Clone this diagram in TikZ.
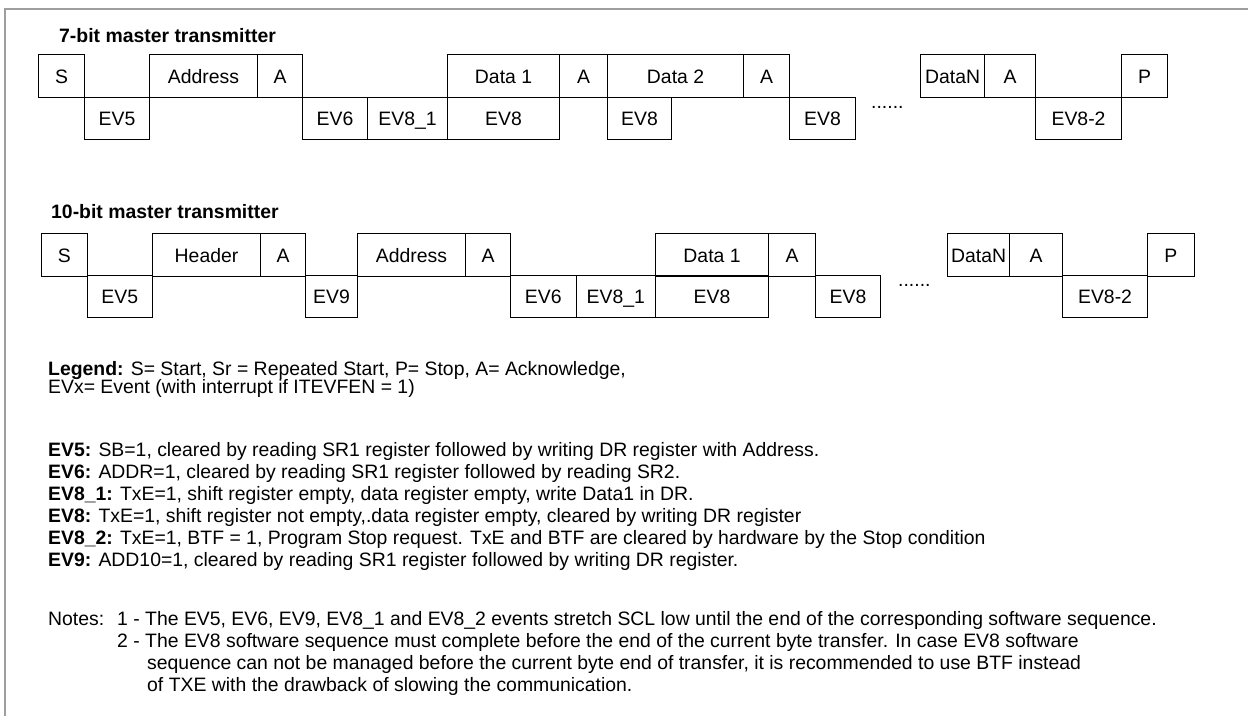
\documentclass[tikz,border=0pt]{standalone}
\usepackage{fontspec}
\setmainfont{Liberation Sans}
\begin{document}
\begin{tikzpicture}[x=1pt,y=-1pt,
  font=\fontsize{19.4}{23}\selectfont,
  frameline/.style={draw=black!38, line width=1.8pt},
  cell/.style={draw=black, line width=1.1pt, inner sep=0pt, anchor=north west,
               text height=13.9pt, text depth=0pt, align=center},
  topcell/.style={cell, minimum height=43pt},
  botcell/.style={cell, minimum height=42pt},
  txt/.style={anchor=base west, inner sep=0pt},
  ttl/.style={txt, font=\fontsize{19.4}{23}\selectfont\bfseries}]
\useasboundingbox (0,0) rectangle (1248,716);
\draw[frameline] (5,716) -- (5,9) -- (1248,9);

% ---------- 7-bit ----------
\node[ttl] (t1) at (59,42) {7-bit master transmitter};
\node[topcell, minimum width=46pt]  (a1)  at (38,54)   {S};
\node[topcell, minimum width=108pt] (a2)  at (149,54)  {Address};
\node[topcell, minimum width=45pt]  (a3)  at (257,54)  {A};
\node[topcell, minimum width=112pt] (a4)  at (447,54)  {Data 1};
\node[topcell, minimum width=48pt]  (a5)  at (559,54)  {A};
\node[topcell, minimum width=136pt] (a6)  at (607,54)  {Data 2};
\node[topcell, minimum width=46pt]  (a7)  at (743,54)  {A};
\node[topcell, minimum width=64pt]  (a8)  at (920,54)  {DataN};
\node[topcell, minimum width=51pt]  (a9)  at (984,54)  {A};
\node[topcell, minimum width=46pt]  (a10) at (1121,54) {P};
\node[botcell, minimum width=65pt]  (b1)  at (84,97)   {EV5};
\node[botcell, minimum width=65pt]  (b2)  at (302,97)  {EV6};
\node[botcell, minimum width=80pt]  (b3)  at (367,97)  {EV8\_1};
\node[botcell, minimum width=112pt] (b4)  at (447,97)  {EV8};
\node[botcell, minimum width=64pt]  (b5)  at (607,97)  {EV8};
\node[botcell, minimum width=66pt]  (b6)  at (789,97)  {EV8};
\node[botcell, minimum width=86pt]  (b7)  at (1035,97) {EV8-2};
\node[txt] (d1) at (871,108) {......};

% ---------- 10-bit ----------
\node[ttl] (t2) at (51,218) {10-bit master transmitter};
\node[topcell, minimum width=45.5pt] (c1)  at (41,233)   {S};
\node[topcell, minimum width=108pt]  (c2)  at (152,233)  {Header};
\node[topcell, minimum width=45pt]   (c3)  at (260,233)  {A};
\node[topcell, minimum width=108pt]  (c4)  at (357,233)  {Address};
\node[topcell, minimum width=45pt]   (c5)  at (465,233)  {A};
\node[topcell, minimum width=113pt]  (c6)  at (655,233)  {Data 1};
\node[topcell, minimum width=47pt]   (c7)  at (768,233)  {A};
\node[topcell, minimum width=62pt]   (c8)  at (947,233)  {DataN};
\node[topcell, minimum width=53pt]   (c9)  at (1009,233) {A};
\node[topcell, minimum width=46.5pt] (c10) at (1147,233) {P};
\node[botcell, minimum width=65.5pt] (e1)  at (86.5,275) {EV5};
\node[botcell, minimum width=52pt]   (e2)  at (305,275)  {EV9};
\node[botcell, minimum width=65.5pt] (e3)  at (510,275)  {EV6};
\node[botcell, minimum width=79.5pt] (e4)  at (575.5,275) {EV8\_1};
\node[botcell, minimum width=113pt]  (e5)  at (655,275)  {EV8};
\node[botcell, minimum width=65pt]   (e6)  at (815,275)  {EV8};
\node[botcell, minimum width=85pt]   (e7)  at (1062,275) {EV8-2};
\node[txt] (d2) at (898,286) {......};

% ---------- legend ----------
\node[txt] (lg1) at (48,375) {\textbf{Legend:} S= Start, Sr = Repeated Start, P= Stop, A= Acknowledge,};
\node[txt] (lg2) at (48,393) {EVx= Event (with interrupt if ITEVFEN = 1)};
\node[txt] (l5)  at (48,456) {\textbf{EV5:} SB=1, cleared by reading SR1 register followed by writing DR register with Address.};
\node[txt] (l6)  at (48,478) {\textbf{EV6:} ADDR=1, cleared by reading SR1 register followed by reading SR2.};
\node[txt] (l81) at (48,500) {\textbf{EV8\_1:} TxE=1, shift register empty, data register empty, write Data1 in DR.};
\node[txt] (l8)  at (48,522) {\textbf{EV8:} TxE=1, shift register not empty,.data register empty, cleared by writing DR register};
\node[txt] (l82) at (48,544) {\textbf{EV8\_2:} TxE=1, BTF = 1, Program Stop request. TxE and BTF are cleared by hardware by the Stop condition};
\node[txt] (l9)  at (48,566) {\textbf{EV9:} ADD10=1, cleared by reading SR1 register followed by writing DR register.};

\node[txt] (n0) at (48,625)  {Notes:};
\node[txt] (n1) at (117,625) {1 - The EV5, EV6, EV9, EV8\_1 and EV8\_2 events stretch SCL low until the end of the corresponding software sequence.};
\node[txt] (n2) at (117,647) {2 - The EV8 software sequence must complete before the end of the current byte transfer. In case EV8 software};
\node[txt] (n3) at (147,669) {sequence can not be managed before the current byte end of transfer, it is recommended to use BTF instead};
\node[txt] (n4) at (147,691) {of TXE with the drawback of slowing the communication.};
\end{tikzpicture}
\end{document}
